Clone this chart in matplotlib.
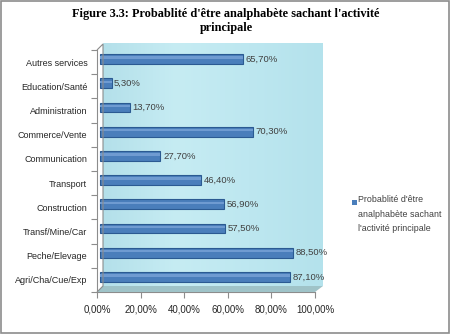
import matplotlib.pyplot as plt
import matplotlib.transforms as mtransforms
from matplotlib.patches import Rectangle, Polygon
from matplotlib.colors import LinearSegmentedColormap
import numpy as np

categories = ["Agri/Cha/Cue/Exp", "Peche/Elevage", "Transf/Mine/Car",
              "Construction", "Transport", "Communication",
              "Commerce/Vente", "Administration", "Education/Santé",
              "Autres services"]
values = [87.1, 88.5, 57.5, 56.9, 46.4, 27.7, 70.3, 13.7, 5.3, 65.7]
x_ticks = [0, 20, 40, 60, 80, 100]
serie = "Probablité d'être\nanalphabète sachant\nl'activité principale"
titre = "Figure 3.3: Probablité d'être analphabète sachant l'activité\nprincipale"

W, H = 450, 334
fig = plt.figure(figsize=(W / 100, H / 100), dpi=100)
fig.patch.set_facecolor("white")

# Cadre gris autour du graphique
fig.patches.append(Rectangle((0.003, 0.003), 0.994, 0.994,
                             transform=fig.transFigure, fill=False,
                             edgecolor="#8c8c8c", linewidth=1.2))

fig.text(226 / W, 1 - 8 / H, titre, ha="center", va="top",
         fontsize=8.8, fontweight="bold", family="Liberation Serif",
         linespacing=1.2)

# Plan frontal (pixels)
x0, x1 = 97, 315
y0, y1 = 292, 50
ax = fig.add_axes([x0 / W, 1 - y0 / H, (x1 - x0) / W, (y0 - y1) / H])
ax.set_xlim(0, 100)
ax.set_ylim(-0.5, len(categories) - 0.5)
ax.patch.set_alpha(0)

# Paroi du fond et sol (effet 3D)
dx, dy = 6, 6
wall = fig.add_axes([(x0 + dx) / W, 1 - (y0 - dy) / H,
                     (x1 - x0 + 2) / W, (y0 - y1 + 1) / H], zorder=-1)
grad = np.linspace(0, 1, 100).reshape(1, -1)
cmap = LinearSegmentedColormap.from_list("eau", ["#b4e0ea", "#c6ecf3", "#bde7f0", "#b4e2ec"])
wall.imshow(grad, aspect="auto", cmap=cmap, extent=[0, 1, 0, 1])
wall.set_axis_off()

fig.patches.append(Polygon([(x0 / W, 1 - y0 / H), (x1 / W, 1 - y0 / H),
                            ((x1 + dx + 2) / W, 1 - (y0 - dy) / H),
                            ((x0 + dx) / W, 1 - (y0 - dy) / H)],
                           closed=True, transform=fig.transFigure,
                           facecolor="#9fc3c8", edgecolor="none", zorder=0))
fig.patches.append(Polygon([(x0 / W, 1 - y1 / H), ((x0 + dx) / W, 1 - (y1 - dy) / H),
                            ((x0 + dx) / W, 1 - (y0 - dy) / H), (x0 / W, 1 - y0 / H)],
                           closed=False, transform=fig.transFigure,
                           facecolor="none", edgecolor="#8c8c8c",
                           linewidth=0.8, zorder=0))

# Barres décalées à mi-profondeur
off = mtransforms.offset_copy(ax.transData, fig=fig, x=3, y=3, units="dots")
y = np.arange(len(categories))
ax.barh(y, values, height=0.4, color="#4a7ebb", edgecolor="#2b5a92",
        linewidth=0.8, transform=off, zorder=3)
ax.barh(y + 0.06, values, height=0.1, color="#6f9bd1", edgecolor="none",
        transform=off, zorder=4)
for yi, v in zip(y, values):
    ax.text(v + 1.2, yi, ("%.2f%%" % v).replace(".", ","), va="center",
            ha="left", fontsize=6.8, color="#404040",
            family="Liberation Sans", transform=off, zorder=5)

# Axes
for s in ["top", "right"]:
    ax.spines[s].set_visible(False)
ax.spines["left"].set_color("#8c8c8c")
ax.spines["bottom"].set_color("#8c8c8c")
ax.spines["left"].set_linewidth(0.8)
ax.spines["bottom"].set_linewidth(0.8)

ax.set_yticks(np.arange(-0.5, len(categories), 1), minor=False)
ax.set_yticklabels([])
ax.set_yticks(y, minor=True)
ax.set_yticklabels(categories, minor=True, fontsize=6.5,
                   family="Liberation Sans", color="#262626")
ax.tick_params(axis="y", which="major", length=4, color="#8c8c8c", width=0.8)
ax.tick_params(axis="y", which="minor", length=0, pad=7)

ax.set_xticks(x_ticks)
ax.set_xticklabels([("%.2f%%" % t).replace(".", ",") for t in x_ticks],
                   fontsize=7, family="Liberation Sans", color="#262626")
ax.tick_params(axis="x", length=4, color="#8c8c8c", width=0.8, pad=5)

# Légende
fig.patches.append(Rectangle((352 / W, 1 - 205 / H), 5 / W, 5 / H,
                             transform=fig.transFigure,
                             facecolor="#4a7ebb", edgecolor="none"))
fig.text(358 / W, 1 - 195 / H, serie, ha="left", va="top", fontsize=6.4,
         family="Liberation Sans", color="#404040", linespacing=1.8)

plt.savefig("out.png", dpi=100)
plt.close()
